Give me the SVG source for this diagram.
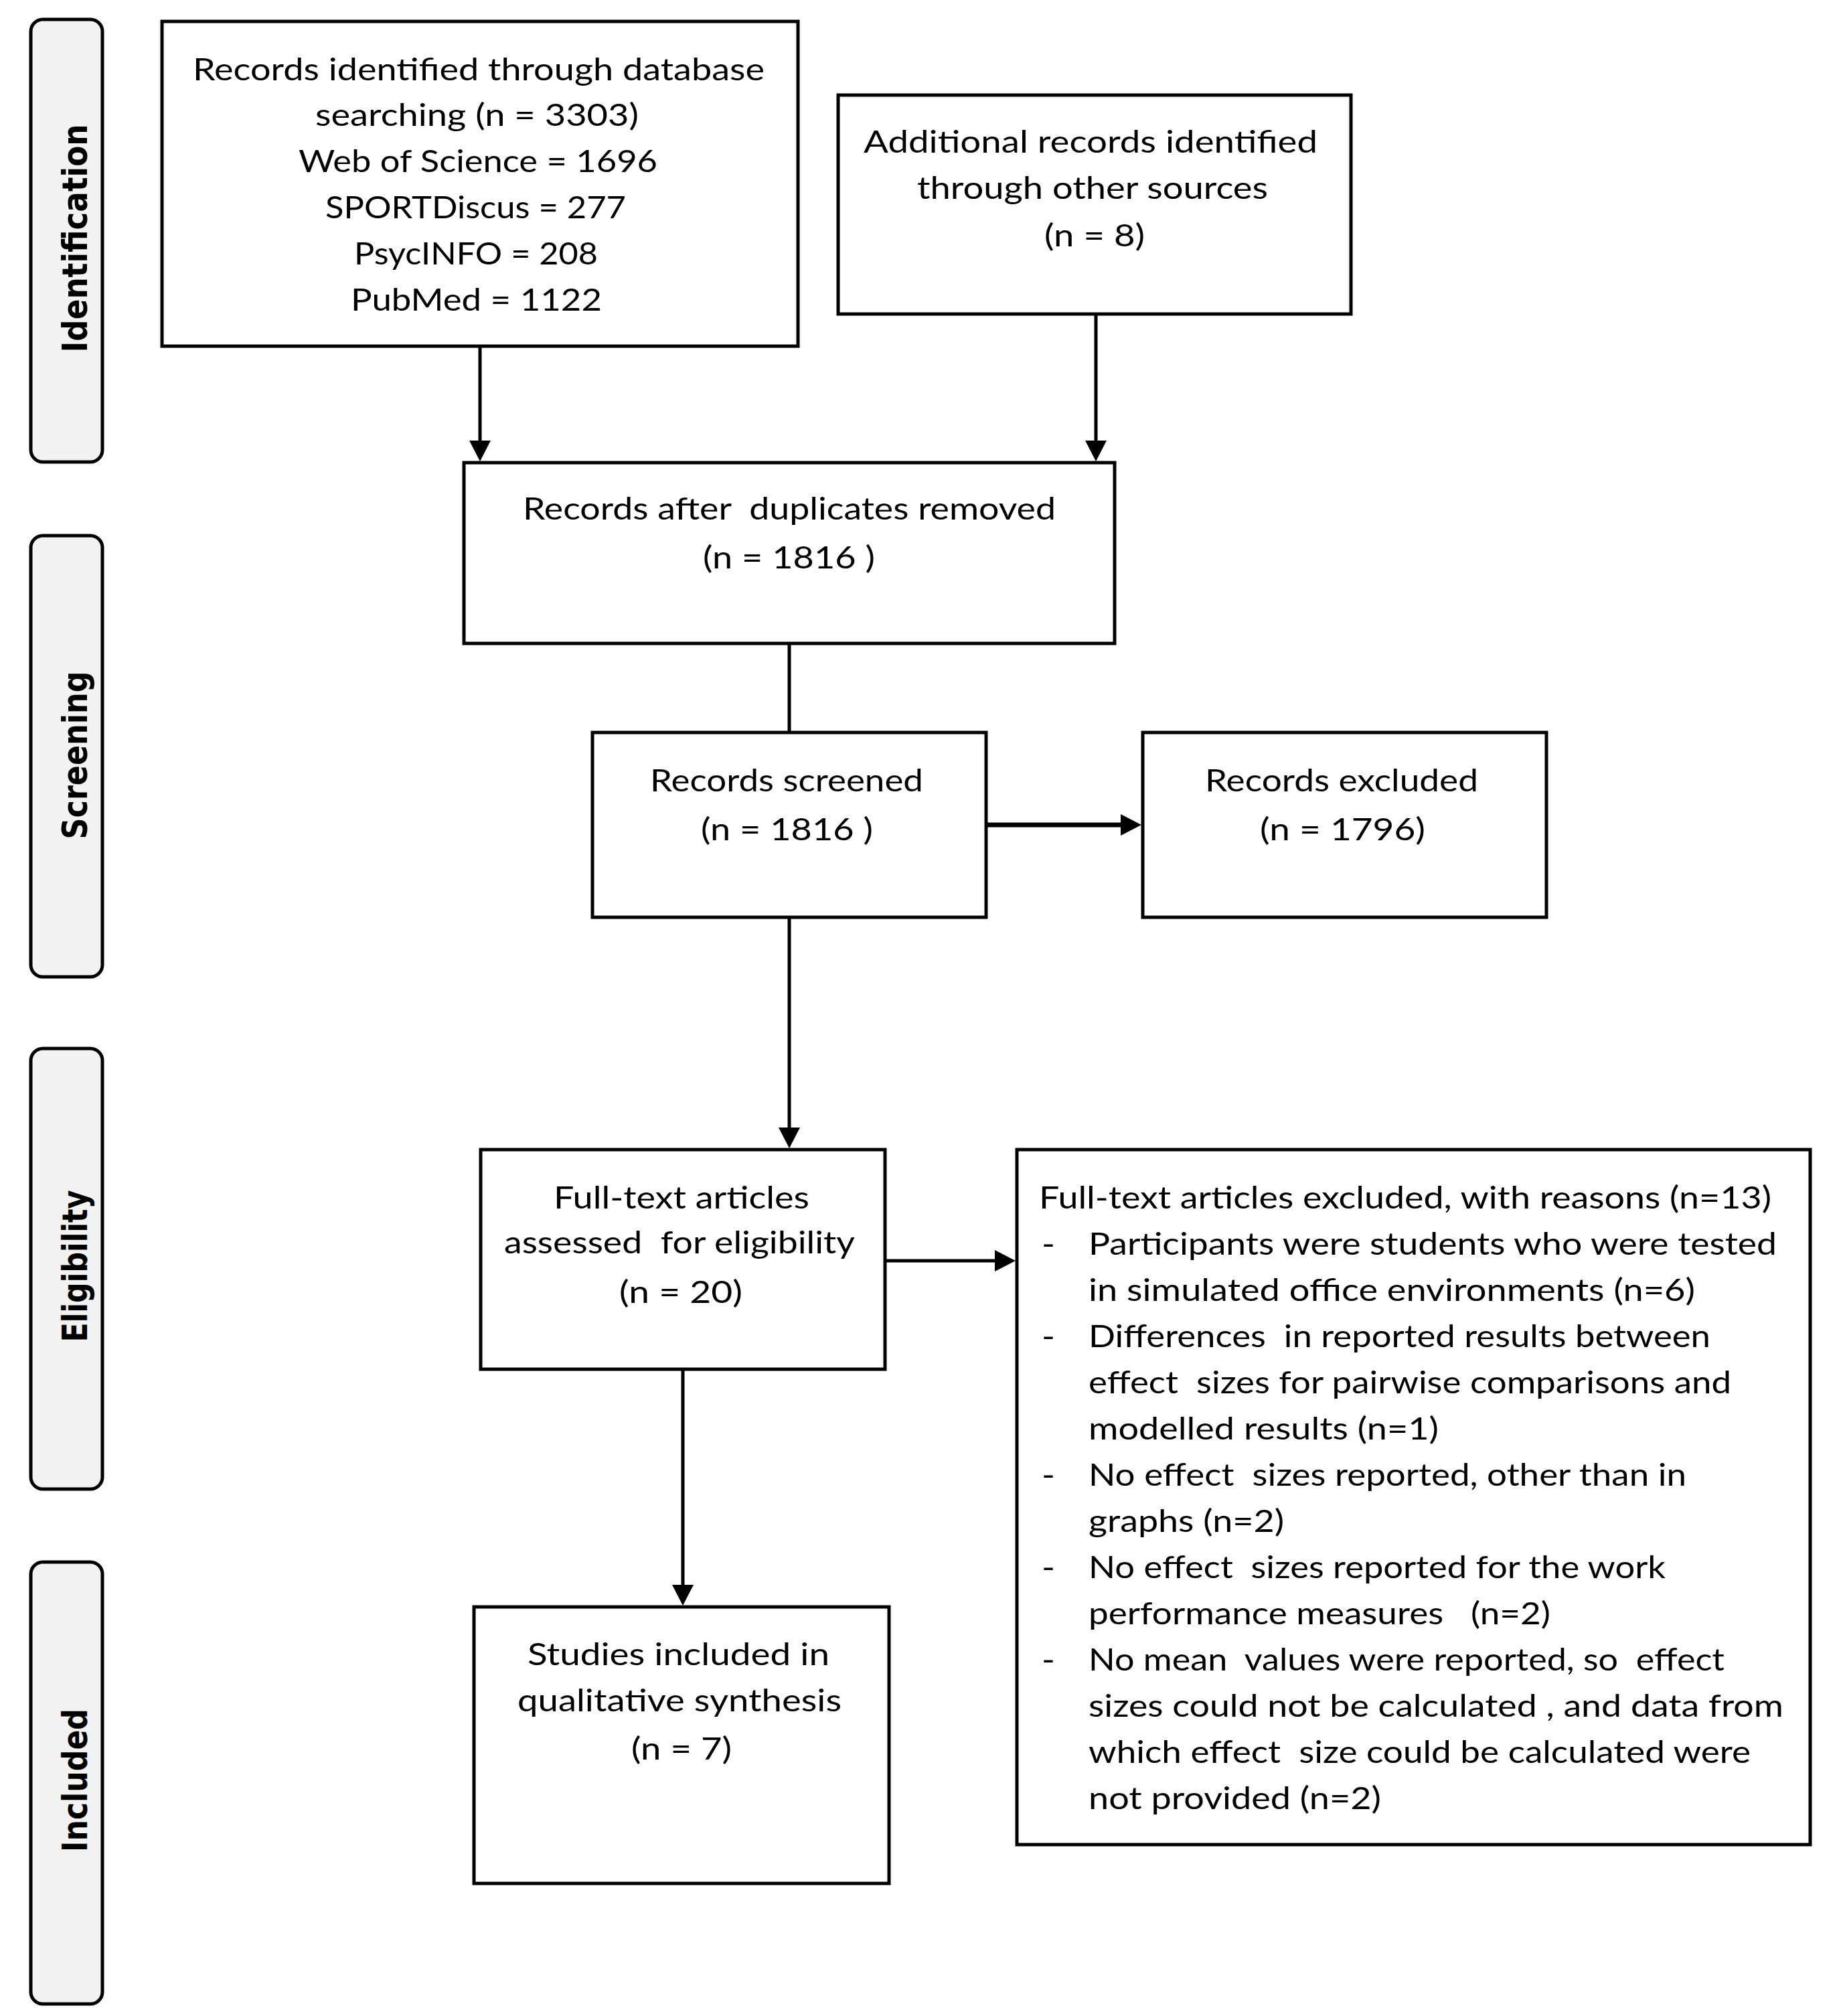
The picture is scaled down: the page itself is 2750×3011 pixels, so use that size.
<svg xmlns="http://www.w3.org/2000/svg" width="2750" height="3011" viewBox="0 0 2750 3011">
<defs>
<style>
.bg{fill:#ffffff}
.box{fill:#ffffff;stroke:#000;stroke-width:5}
.bar{fill:#f2f2f2;stroke:#000;stroke-width:5}
.t{font-family:Lato,"Liberation Sans",sans-serif;font-size:47px;fill:#000;white-space:pre}
.lab{font-family:"DejaVu Sans","Liberation Sans",sans-serif;font-weight:bold;font-size:52px;fill:#000;text-anchor:middle}
.c{stroke:#000;stroke-width:5;fill:none}
.cw{stroke:#000;stroke-width:7;fill:none}
</style>
<marker id="ah" markerUnits="userSpaceOnUse" markerWidth="31" markerHeight="32" refX="21" refY="16" orient="auto">
<path d="M0,0 L31,16 L0,32 Z" fill="#000"/>
</marker>
</defs>
<rect class="bg" x="0" y="0" width="2750" height="3011"/>

<g id="phase-identification">
<rect class="bar" x="46" y="29" width="107" height="661" rx="18"/>
<text class="lab" transform="translate(130,356) rotate(-90)" textLength="341" lengthAdjust="spacingAndGlyphs">Identification</text>
</g>
<g id="phase-screening">
<rect class="bar" x="46" y="800" width="107" height="659" rx="18"/>
<text class="lab" transform="translate(130,1128) rotate(-90)" textLength="251" lengthAdjust="spacingAndGlyphs">Screening</text>
</g>
<g id="phase-eligibility">
<rect class="bar" x="46" y="1566" width="107" height="658" rx="18"/>
<text class="lab" transform="translate(130,1891) rotate(-90)" textLength="227" lengthAdjust="spacingAndGlyphs">Eligibility</text>
</g>
<g id="phase-included">
<rect class="bar" x="46" y="2333" width="107" height="660" rx="18"/>
<text class="lab" transform="translate(130,2659) rotate(-90)" textLength="214" lengthAdjust="spacingAndGlyphs">Included</text>
</g>

<g id="connectors">
<line class="c" x1="717" y1="517" x2="717" y2="679" marker-end="url(#ah)"/>
<line class="c" x1="1637" y1="469" x2="1637" y2="679" marker-end="url(#ah)"/>
<line class="c" x1="1179" y1="961" x2="1179" y2="1094"/>
<line class="c" x1="1179" y1="1370" x2="1179" y2="1705" marker-end="url(#ah)"/>
<line class="cw" x1="1473" y1="1232" x2="1695" y2="1232" marker-end="url(#ah)"/>
<line class="c" x1="1322" y1="1883" x2="1507" y2="1883" marker-end="url(#ah)"/>
<line class="c" x1="1020" y1="2045" x2="1020" y2="2388" marker-end="url(#ah)"/>
</g>

<g id="n-db">
<rect class="box" x="242" y="32" width="950" height="485"/>
<text class="t" x="288" y="120" textLength="854" lengthAdjust="spacingAndGlyphs">Records identified through database</text>
<text class="t" x="471" y="188" textLength="483" lengthAdjust="spacingAndGlyphs">searching (n = 3303)</text>
<text class="t" x="446" y="257" textLength="536" lengthAdjust="spacingAndGlyphs">Web of Science = 1696</text>
<text class="t" x="486" y="326" textLength="449" lengthAdjust="spacingAndGlyphs">SPORTDiscus = 277</text>
<text class="t" x="529" y="395" textLength="364" lengthAdjust="spacingAndGlyphs">PsycINFO = 208</text>
<text class="t" x="524" y="464" textLength="375" lengthAdjust="spacingAndGlyphs">PubMed = 1122</text>
</g>

<g id="n-other">
<rect class="box" x="1252" y="142" width="766" height="327"/>
<text class="t" x="1290" y="228" textLength="678" lengthAdjust="spacingAndGlyphs">Additional records identified</text>
<text class="t" x="1370" y="297" textLength="524" lengthAdjust="spacingAndGlyphs">through other sources</text>
<text class="t" x="1560" y="368" textLength="150" lengthAdjust="spacingAndGlyphs">(n = 8)</text>
</g>

<g id="n-dedup">
<rect class="box" x="693" y="691" width="972" height="270"/>
<text class="t" x="781" y="776" textLength="796" lengthAdjust="spacingAndGlyphs">Records after  duplicates removed</text>
<text class="t" x="1050" y="849" textLength="257" lengthAdjust="spacingAndGlyphs">(n = 1816 )</text>
</g>

<g id="n-screened">
<rect class="box" x="885" y="1094" width="588" height="276"/>
<text class="t" x="971" y="1182" textLength="408" lengthAdjust="spacingAndGlyphs">Records screened</text>
<text class="t" x="1047" y="1255" textLength="257" lengthAdjust="spacingAndGlyphs">(n = 1816 )</text>
</g>

<g id="n-excluded">
<rect class="box" x="1707" y="1094" width="603" height="276"/>
<text class="t" x="1800" y="1182" textLength="408" lengthAdjust="spacingAndGlyphs">Records excluded</text>
<text class="t" x="1882" y="1255" textLength="247" lengthAdjust="spacingAndGlyphs">(n = 1796)</text>
</g>

<g id="n-fulltext">
<rect class="box" x="718" y="1717" width="604" height="328"/>
<text class="t" x="827" y="1805" textLength="382" lengthAdjust="spacingAndGlyphs">Full-text articles</text>
<text class="t" x="753" y="1872" textLength="524" lengthAdjust="spacingAndGlyphs">assessed  for eligibility</text>
<text class="t" x="925" y="1946" textLength="184" lengthAdjust="spacingAndGlyphs">(n = 20)</text>
</g>

<g id="n-ftexcluded">
<rect class="box" x="1519" y="1717" width="1185" height="1038"/>
<text class="t" x="1552" y="1805" textLength="1094" lengthAdjust="spacingAndGlyphs">Full-text articles excluded, with reasons (n=13)</text>
<text class="t" x="1556" y="1874" textLength="20" lengthAdjust="spacingAndGlyphs">-</text>
<text class="t" x="1626" y="1874" textLength="1028" lengthAdjust="spacingAndGlyphs">Participants were students who were tested</text>
<text class="t" x="1626" y="1943" textLength="906" lengthAdjust="spacingAndGlyphs">in simulated office environments (n=6)</text>
<text class="t" x="1556" y="2012" textLength="20" lengthAdjust="spacingAndGlyphs">-</text>
<text class="t" x="1626" y="2012" textLength="929" lengthAdjust="spacingAndGlyphs">Differences  in reported results between</text>
<text class="t" x="1626" y="2081" textLength="960" lengthAdjust="spacingAndGlyphs">effect  sizes for pairwise comparisons and</text>
<text class="t" x="1626" y="2150" textLength="523" lengthAdjust="spacingAndGlyphs">modelled results (n=1)</text>
<text class="t" x="1556" y="2219" textLength="20" lengthAdjust="spacingAndGlyphs">-</text>
<text class="t" x="1626" y="2219" textLength="893" lengthAdjust="spacingAndGlyphs">No effect  sizes reported, other than in</text>
<text class="t" x="1626" y="2288" textLength="292" lengthAdjust="spacingAndGlyphs">graphs (n=2)</text>
<text class="t" x="1556" y="2357" textLength="20" lengthAdjust="spacingAndGlyphs">-</text>
<text class="t" x="1626" y="2357" textLength="862" lengthAdjust="spacingAndGlyphs">No effect  sizes reported for the work</text>
<text class="t" x="1626" y="2426" textLength="690" lengthAdjust="spacingAndGlyphs">performance measures   (n=2)</text>
<text class="t" x="1556" y="2495" textLength="20" lengthAdjust="spacingAndGlyphs">-</text>
<text class="t" x="1626" y="2495" textLength="950" lengthAdjust="spacingAndGlyphs">No mean  values were reported, so  effect</text>
<text class="t" x="1626" y="2564" textLength="1038" lengthAdjust="spacingAndGlyphs">sizes could not be calculated , and data from</text>
<text class="t" x="1626" y="2633" textLength="989" lengthAdjust="spacingAndGlyphs">which effect  size could be calculated were</text>
<text class="t" x="1626" y="2702" textLength="437" lengthAdjust="spacingAndGlyphs">not provided (n=2)</text>
</g>

<g id="n-included">
<rect class="box" x="708" y="2400" width="620" height="413"/>
<text class="t" x="788" y="2487" textLength="451" lengthAdjust="spacingAndGlyphs">Studies included in</text>
<text class="t" x="773" y="2556" textLength="484" lengthAdjust="spacingAndGlyphs">qualitative synthesis</text>
<text class="t" x="943" y="2628" textLength="150" lengthAdjust="spacingAndGlyphs">(n = 7)</text>
</g>
</svg>
